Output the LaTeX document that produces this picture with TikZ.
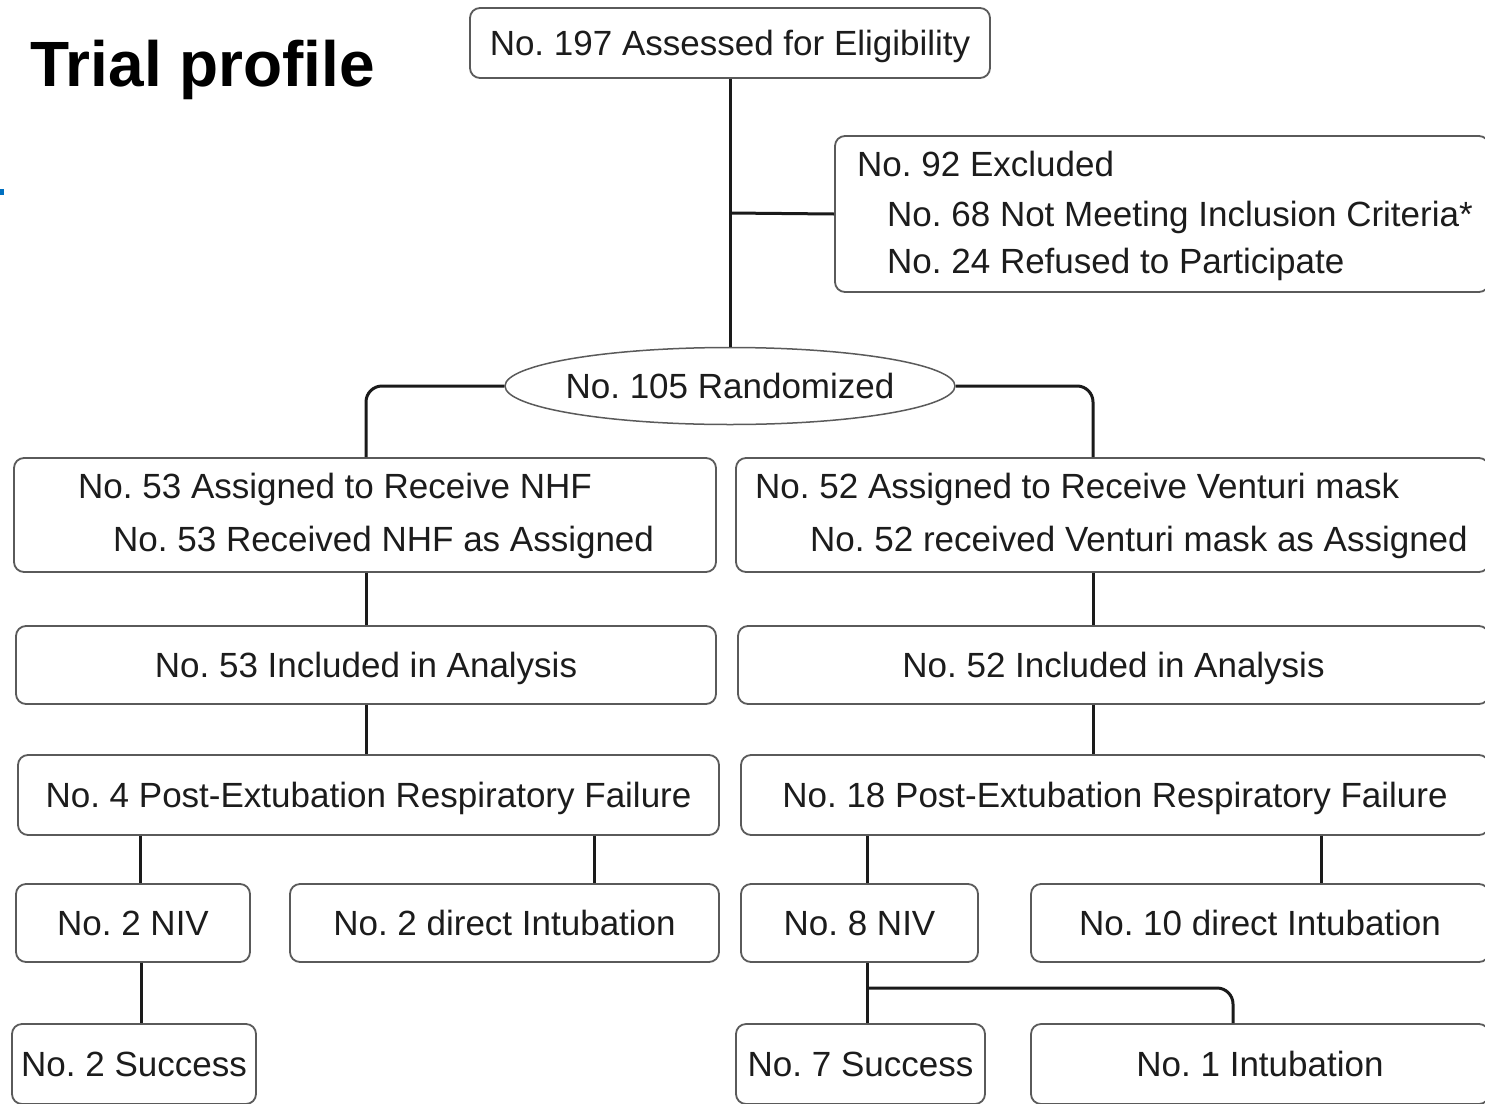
\documentclass[tikz,border=0pt]{standalone}
\usepackage{fontspec}
\setmainfont{Liberation Sans}
\usetikzlibrary{shapes.geometric}
\definecolor{txt}{HTML}{1C1C1C}
\definecolor{frame}{HTML}{5A5A5A}
\definecolor{lnk}{HTML}{1A1A1A}
\definecolor{markblue}{HTML}{0070C0}
\frenchspacing
\begin{document}
\frenchspacing
\begin{tikzpicture}[x=1pt,y=-1pt,
  box/.style={draw=frame, line width=1.8pt, rounded corners=10pt, fill=white,
    inner sep=0pt, text=txt, font=\fontsize{35}{40}\selectfont\frenchspacing,
    text height=25pt, text depth=0pt},
  oval/.style={ellipse, draw=frame, line width=1.5pt, fill=white, inner sep=0pt,
    text=txt, font=\fontsize{35}{40}\selectfont\frenchspacing, text height=25pt, text depth=0pt},
  conn/.style={draw=lnk, line width=3pt},
  lbl/.style={anchor=base west, inner sep=0pt, text=txt, font=\fontsize{35}{40}\selectfont\frenchspacing}]
\useasboundingbox (0,0) rectangle (1485,1103);
\clip (0,0) rectangle (1485,1103);
\fill[white] (0,0) rectangle (1485,1103);

% title and mark
\node[anchor=base west, inner sep=0pt, font=\fontsize{64}{70}\selectfont\bfseries] (title) at (30,86) {Trial profile};
\fill[markblue] (0,189) rectangle (4,195);

% boxes
\node[box, minimum width=520pt, minimum height=70pt] (elig) at (730,43) {No. 197 Assessed for Eligibility};
\node[box, minimum width=654pt, minimum height=156pt] (excl) at (1162,214) {};
\node[lbl] (ex0) at (857,176) {No. 92 Excluded};
\node[lbl] (ex1) at (887,226) {No. 68 Not Meeting Inclusion Criteria*};
\node[lbl] (ex2) at (887,273) {No. 24 Refused to Participate};

\node[oval, minimum width=450pt, minimum height=77pt] (rand) at (730,386) {\makebox[0pt]{No. 105 Randomized}};

\node[box, minimum width=702pt, minimum height=114pt] (nhf) at (365,515) {};
\node[lbl] (nhf1) at (78,498) {No. 53 Assigned to Receive NHF};
\node[lbl] (nhf2) at (113,551) {No. 53 Received NHF as Assigned};

\node[box, minimum width=753pt, minimum height=114pt] (vm) at (1112.5,515) {};
\node[lbl] (vm1) at (755,498) {No. 52 Assigned to Receive Venturi mask};
\node[lbl] (vm2) at (810,551) {No. 52 received Venturi mask as Assigned};

\node[box, minimum width=700pt, minimum height=78pt] (anaL) at (366,665) {No. 53 Included in Analysis};
\node[box, minimum width=751pt, minimum height=78pt] (anaR) at (1113.5,665) {No. 52 Included in Analysis};

\node[box, minimum width=701pt, minimum height=80pt] (failL) at (368.5,795) {No. 4 Post-Extubation Respiratory Failure};
\node[box, minimum width=748pt, minimum height=80pt] (failR) at (1115,795) {No. 18 Post-Extubation Respiratory Failure};

\node[box, minimum width=234pt, minimum height=78pt] (nivL) at (133,923) {No. 2 NIV};
\node[box, minimum width=429pt, minimum height=78pt] (diL) at (504.5,923) {No. 2 direct Intubation};
\node[box, minimum width=237pt, minimum height=78pt] (nivR) at (859.5,923) {No. 8 NIV};
\node[box, minimum width=458pt, minimum height=78pt] (diR) at (1260,923) {No. 10 direct Intubation};

\node[box, minimum width=244pt, minimum height=80pt] (sucL) at (134,1064) {No. 2 Success};
\node[box, minimum width=249pt, minimum height=80pt] (sucR) at (860.5,1064) {No. 7 Success};
\node[box, minimum width=458pt, minimum height=80pt] (intR) at (1260,1064) {No. 1 Intubation};

% connectors
\coordinate (exj) at (730,213);
\draw[conn] (elig.south) -- (rand.north);
\draw[conn] (exj) -- (excl.west);
\draw[conn, rounded corners=16pt] (rand.west) -| (nhf.north -| 366,0);
\draw[conn, rounded corners=16pt] (rand.east) -| (vm.north -| 1093,0);
\draw[conn] (nhf.south -| 366,0) -- (anaL.north -| 366,0);
\draw[conn] (vm.south -| 1093,0) -- (anaR.north -| 1093,0);
\draw[conn] (anaL.south -| 366,0) -- (failL.north -| 366,0);
\draw[conn] (anaR.south -| 1093,0) -- (failR.north -| 1093,0);
\draw[conn] (failL.south -| 140,0) -- (nivL.north -| 140,0);
\draw[conn] (failL.south -| 594,0) -- (diL.north -| 594,0);
\draw[conn] (failR.south -| 867,0) -- (nivR.north -| 867,0);
\draw[conn] (failR.south -| 1321,0) -- (diR.north -| 1321,0);
\draw[conn] (nivL.south -| 141,0) -- (sucL.north -| 141,0);
\draw[conn] (nivR.south -| 867,0) -- (sucR.north -| 867,0);
\coordinate (split) at (867,988);
\draw[conn, rounded corners=16pt] (split) -| (intR.north -| 1233,0);
\end{tikzpicture}
\end{document}
